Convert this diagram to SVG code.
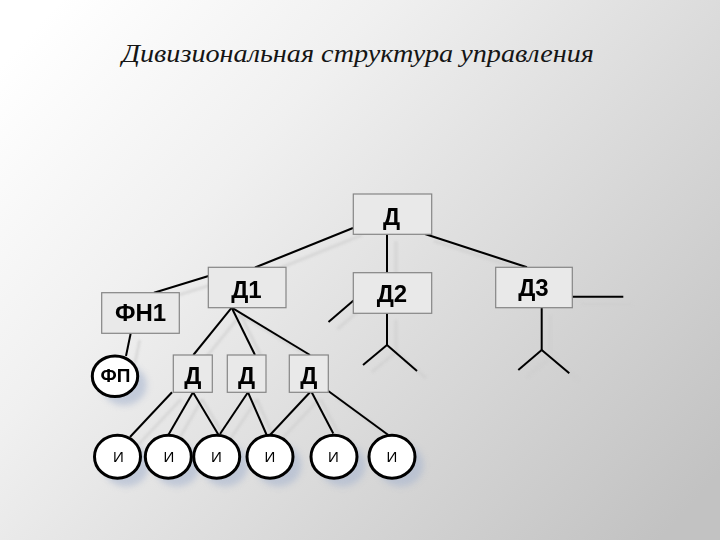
<svg xmlns="http://www.w3.org/2000/svg" width="720" height="540" viewBox="0 0 720 540">
  <defs>
    <linearGradient id="bg" gradientUnits="userSpaceOnUse" x1="60" y1="0" x2="660" y2="540">
      <stop offset="0" stop-color="#ffffff"/>
      <stop offset="0.3" stop-color="#f0f0f0"/>
      <stop offset="1" stop-color="#c2c2c2"/>
    </linearGradient>
    <filter id="blur" x="-50%" y="-50%" width="200%" height="200%">
      <feGaussianBlur stdDeviation="3"/>
    </filter>
    <filter id="lblur" x="-20%" y="-20%" width="140%" height="140%">
      <feGaussianBlur stdDeviation="0.8"/>
    </filter>
  </defs>
  <style>
    .box { fill: #e9e9e9; stroke: #858585; stroke-width: 1.2; }
    .circ { fill: #ffffff; stroke: #000000; stroke-width: 3; }
    .csh { fill: #a9b6cf; opacity: 0.6; filter: url(#blur); }
    .conn line { stroke: #000000; stroke-width: 2; stroke-linecap: butt; }
    .shadow line { stroke: #cfcfcf; stroke-width: 3; opacity: 0.6; }
    .lbl { font-family: "Liberation Sans", Arial, sans-serif; font-weight: bold; text-anchor: middle; fill: #000000; }
    .big { font-size: 24px; }
    .sm { font-size: 15px; font-weight: normal; }
    .title { font-family: "Liberation Serif", "Times New Roman", serif; font-style: italic; font-size: 26px; fill: #151515; text-anchor: middle; }
  </style>

  <rect x="0" y="0" width="720" height="540" fill="url(#bg)"/>

  <text class="title" x="358" y="62" textLength="472" lengthAdjust="spacingAndGlyphs">Дивизиональная структура управления</text>

  <!-- connector shadows -->
  <g class="shadow" transform="translate(9,7)" filter="url(#lblur)">
    <line x1="353" y1="228" x2="255" y2="267.5"/>
    <line x1="208.5" y1="276" x2="154" y2="292.7"/>
    <line x1="387" y1="234" x2="387" y2="272.7"/>
    <line x1="425" y1="234" x2="527" y2="267.3"/>
    <line x1="353.5" y1="300.5" x2="328.5" y2="322"/>
    <line x1="387" y1="313.3" x2="387" y2="345"/>
    <line x1="387" y1="345" x2="363" y2="365"/>
    <line x1="387" y1="345" x2="417" y2="371"/>
    <line x1="541.7" y1="307.7" x2="541.7" y2="350"/>
    <line x1="541.7" y1="350" x2="518.3" y2="370"/>
    <line x1="541.7" y1="350" x2="569.3" y2="373.3"/>
    <line x1="572.3" y1="296.7" x2="623.3" y2="296.7"/>
    <line x1="130.7" y1="333.3" x2="126" y2="356"/>
    <line x1="231.7" y1="307.7" x2="193.3" y2="355"/>
    <line x1="231.7" y1="307.7" x2="255" y2="355"/>
    <line x1="231.7" y1="307.7" x2="310" y2="355"/>
    <line x1="172" y1="392.3" x2="130" y2="437"/>
    <line x1="193" y1="392.3" x2="168.3" y2="435"/>
    <line x1="193" y1="392.3" x2="218.3" y2="434.5"/>
    <line x1="248" y1="392.3" x2="220" y2="434"/>
    <line x1="248" y1="392.3" x2="266.7" y2="435"/>
    <line x1="310" y1="392.3" x2="270" y2="435"/>
    <line x1="311.7" y1="392.3" x2="333.3" y2="433.5"/>
    <line x1="328.3" y1="391" x2="388.3" y2="435"/>
  </g>

  <!-- connectors -->
  <g id="connectors" class="conn">
    <line x1="353" y1="228" x2="255" y2="267.5"/>
    <line x1="208.5" y1="276" x2="154" y2="292.7"/>
    <line x1="387" y1="234" x2="387" y2="272.7"/>
    <line x1="425" y1="234" x2="527" y2="267.3"/>
    <line x1="353.5" y1="300.5" x2="328.5" y2="322"/>
    <line x1="387" y1="313.3" x2="387" y2="345"/>
    <line x1="387" y1="345" x2="363" y2="365"/>
    <line x1="387" y1="345" x2="417" y2="371"/>
    <line x1="541.7" y1="307.7" x2="541.7" y2="350"/>
    <line x1="541.7" y1="350" x2="518.3" y2="370"/>
    <line x1="541.7" y1="350" x2="569.3" y2="373.3"/>
    <line x1="572.3" y1="296.7" x2="623.3" y2="296.7"/>
    <line x1="130.7" y1="333.3" x2="126" y2="356"/>
    <line x1="231.7" y1="307.7" x2="193.3" y2="355"/>
    <line x1="231.7" y1="307.7" x2="255" y2="355"/>
    <line x1="231.7" y1="307.7" x2="310" y2="355"/>
    <line x1="172" y1="392.3" x2="130" y2="437"/>
    <line x1="193" y1="392.3" x2="168.3" y2="435"/>
    <line x1="193" y1="392.3" x2="218.3" y2="434.5"/>
    <line x1="248" y1="392.3" x2="220" y2="434"/>
    <line x1="248" y1="392.3" x2="266.7" y2="435"/>
    <line x1="310" y1="392.3" x2="270" y2="435"/>
    <line x1="311.7" y1="392.3" x2="333.3" y2="433.5"/>
    <line x1="328.3" y1="391" x2="388.3" y2="435"/>
  </g>

  <!-- boxes -->
  <g id="node-D">
    <rect class="box" x="353.3" y="194" width="78.4" height="40.3"/>
    <text class="lbl big" x="391.5" y="225">Д</text>
  </g>
  <g id="node-D1">
    <rect class="box" x="208.3" y="267.3" width="77.7" height="40.4"/>
    <text class="lbl big" x="246.5" y="297.5">Д1</text>
  </g>
  <g id="node-FN1">
    <rect class="box" x="101.7" y="292.7" width="77.6" height="40.6"/>
    <text class="lbl big" x="140.5" y="321">ФН1</text>
  </g>
  <g id="node-D2">
    <rect class="box" x="353.3" y="272.7" width="78.4" height="40.6"/>
    <text class="lbl big" x="392" y="302">Д2</text>
  </g>
  <g id="node-D3">
    <rect class="box" x="495.7" y="267.3" width="76.6" height="40.4"/>
    <text class="lbl big" x="533.5" y="295.5">Д3</text>
  </g>
  <g id="node-Da">
    <rect class="box" x="173.3" y="355" width="39" height="37.3"/>
    <text class="lbl big" x="192.8" y="383.5">Д</text>
  </g>
  <g id="node-Db">
    <rect class="box" x="227.3" y="355" width="38.7" height="37.3"/>
    <text class="lbl big" x="246.6" y="383.5">Д</text>
  </g>
  <g id="node-Dc">
    <rect class="box" x="289.3" y="355" width="39" height="37.3"/>
    <text class="lbl big" x="308.8" y="383.5">Д</text>
  </g>

  <!-- circles -->
  <g id="node-FP">
    <ellipse class="csh" cx="124" cy="385" rx="22.7" ry="20.3"/>
    <ellipse class="circ" cx="115" cy="376.3" rx="22.7" ry="20.3"/>
    <text class="lbl" x="115.5" y="382" font-size="19">ФП</text>
  </g>
  <g id="node-I1">
    <ellipse class="csh" cx="126" cy="465" rx="23" ry="21.5"/>
    <ellipse class="circ" cx="117.5" cy="456.7" rx="23" ry="21.5"/>
    <text class="lbl sm" x="118.5" y="462">И</text>
  </g>
  <g id="node-I2">
    <ellipse class="csh" cx="177" cy="465" rx="23" ry="21.5"/>
    <ellipse class="circ" cx="168.3" cy="456.7" rx="23" ry="21.5"/>
    <text class="lbl sm" x="169" y="462">И</text>
  </g>
  <g id="node-I3">
    <ellipse class="csh" cx="225" cy="465" rx="23" ry="21.5"/>
    <ellipse class="circ" cx="216.7" cy="456.7" rx="23" ry="21.5"/>
    <text class="lbl sm" x="216.5" y="462">И</text>
  </g>
  <g id="node-I4">
    <ellipse class="csh" cx="278.5" cy="465" rx="23" ry="21.5"/>
    <ellipse class="circ" cx="270" cy="456.7" rx="23" ry="21.5"/>
    <text class="lbl sm" x="270" y="462">И</text>
  </g>
  <g id="node-I5">
    <ellipse class="csh" cx="342.5" cy="465" rx="23" ry="21.5"/>
    <ellipse class="circ" cx="334" cy="456.7" rx="23" ry="21.5"/>
    <text class="lbl sm" x="333.5" y="462">И</text>
  </g>
  <g id="node-I6">
    <ellipse class="csh" cx="400.5" cy="465" rx="23" ry="21.5"/>
    <ellipse class="circ" cx="392" cy="456.7" rx="23" ry="21.5"/>
    <text class="lbl sm" x="392" y="462">И</text>
  </g>
</svg>
